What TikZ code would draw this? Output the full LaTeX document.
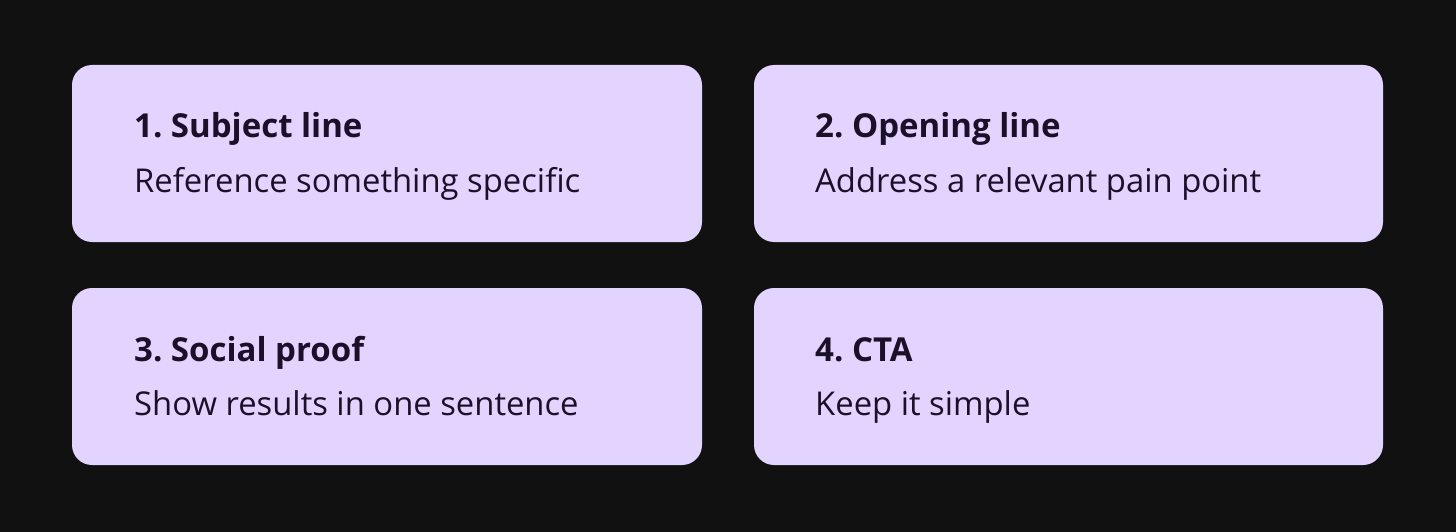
\documentclass[tikz,border=0pt]{standalone}
\usepackage{fontspec}
\setmainfont{Open Sans}
\frenchspacing
\definecolor{bg}{HTML}{111111}
\definecolor{card}{HTML}{E2D4FE}
\definecolor{ink}{HTML}{1A1028}
\begin{document}
\begin{tikzpicture}[x=1pt,y=-1pt,
  card/.style={fill=card,rounded corners=20pt,draw=none},
  ttl/.style={anchor=base west,inner sep=0pt,text=ink,font=\fontsize{33}{38}\selectfont\bfseries},
  body/.style={anchor=base west,inner sep=0pt,text=ink,font=\fontsize{32.8}{38}\selectfont}]
\fill[bg] (0,0) rectangle (1456,532);
\useasboundingbox (0,0) rectangle (1456,532);
\path[card] (72,65) rectangle (702,242) node[pos=0.5,draw=none] (c1) {};
\path[card] (754,65) rectangle (1383,242) node[pos=0.5] (c2) {};
\path[card] (72,288) rectangle (702,465) node[pos=0.5] (c3) {};
\path[card] (754,288) rectangle (1383,465) node[pos=0.5] (c4) {};
\node[ttl] (t1) at (134,138) {1. Subject line};
\node[body] (b1) at (134,192) {Reference something specific};
\node[ttl] (t2) at (815,138) {2. Opening line};
\node[body] (b2) at (815,192) {Address a relevant pain point};
\node[ttl] (t3) at (134,361) {3. Social proof};
\node[body] (b3) at (134,415) {Show results in one sentence};
\node[ttl] (t4) at (815,361) {4. CTA};
\node[body] (b4) at (815,415) {Keep it simple};
\end{tikzpicture}
\end{document}
